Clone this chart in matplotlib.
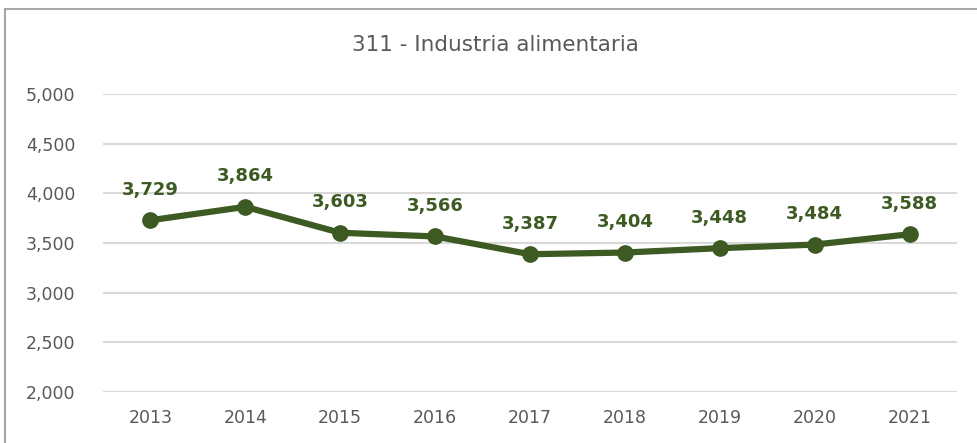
import matplotlib
matplotlib.use("Agg")
import matplotlib.pyplot as plt
from matplotlib.patches import Rectangle

# data
YEARS = ["2013", "2014", "2015", "2016", "2017", "2018", "2019", "2020", "2021"]
VALUES = [3729, 3864, 3603, 3566, 3387, 3404, 3448, 3484, 3588]
TITLE = "311 - Industria alimentaria"

GREEN = "#3d5a23"
TEXT = "#595959"
GRID = "#d9d9d9"

plt.rcParams["font.family"] = ["DejaVu Sans"]

fig = plt.figure(figsize=(9.77, 4.43), dpi=100)
ax = fig.add_axes([103 / 977, 1 - 392 / 443, 854 / 977, 298 / 443])

# outer frame (runs off the right and bottom edges)
fig.patches.append(Rectangle((5 / 977, -0.1), 1.2, 1 - 9 / 443 + 0.1,
                             transform=fig.transFigure, fill=False,
                             edgecolor="#a6a6a6", linewidth=1.5))

x = list(range(len(YEARS)))
ax.plot(x, VALUES, color=GREEN, linewidth=4.5, marker="o", markersize=11,
        solid_capstyle="round", zorder=3)
for xi, v in zip(x, VALUES):
    ax.annotate(f"{v:,}", (xi, v), xytext=(0, 15.5), textcoords="offset points",
                ha="center", va="bottom", fontsize=13, fontweight="bold",
                color=GREEN)

ax.set_xlim(-0.5, len(YEARS) - 0.5)
ax.set_ylim(2000, 5000)
ax.set_yticks(range(2000, 5001, 500))
ax.set_yticklabels([f"{t:,}" for t in range(2000, 5001, 500)])
ax.set_xticks(x)
ax.set_xticklabels(YEARS)
ax.grid(axis="y", color=GRID, linewidth=1.5)
ax.set_axisbelow(True)
for s in ax.spines.values():
    s.set_visible(False)
ax.tick_params(length=0, labelsize=12.5, colors=TEXT, pad=12)
ax.tick_params(axis="y", pad=20)

fig.text(495 / 977, 1 - 45 / 443, TITLE, ha="center", va="center",
         fontsize=15.5, color=TEXT)

fig.savefig("out.png", dpi=100)
